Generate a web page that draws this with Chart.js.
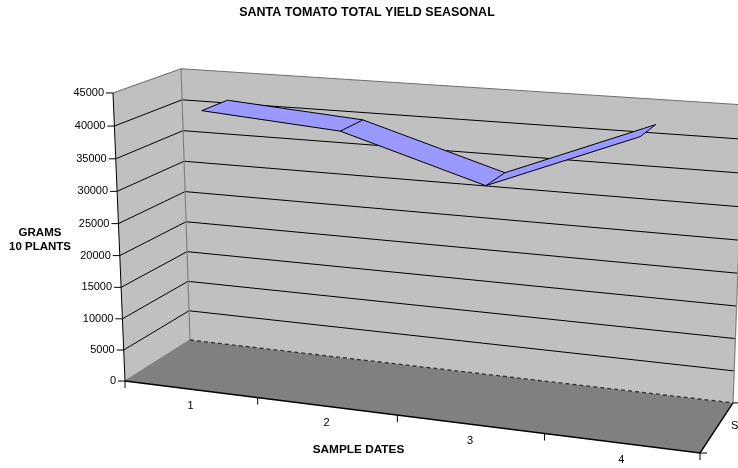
<!DOCTYPE html>
<html>
<head>
<meta charset="utf-8">
<script src="https://cdn.jsdelivr.net/npm/chart.js@4/dist/chart.umd.min.js"></script>
<style>html,body{margin:0;padding:0;background:#fff;overflow:hidden}canvas{display:block}</style>
</head>
<body>
<canvas id="c" width="738" height="468"></canvas>
<script>
const categories = ['1', '2', '3', '4'];
const totalYield = [41850, 40280, 33880, 42630];
const yTickStep = 5000;
const yMax = 45000;
const chartTitle = 'SANTA TOMATO TOTAL YIELD SEASONAL';
const yTitleLines = ['GRAMS', '10 PLANTS'];
const xTitle = 'SAMPLE DATES';
const seriesLabel = 'S';

// Oblique perspective of the sheet: (u along dates, v along value, w into depth), each 0..1
const VIEW = { a: 505, b: -16.07, c: 77.35, d: 125, e: 26.7, f: -291.35, g: -18.9, h: 381, i: -0.1, j: -0.036, k: 0.065 };
const RIBBON_DEPTH = [0.3, 0.7];
function project(u, v, w) {
  const m = VIEW, q = 1 + m.i * u + m.j * v + m.k * w;
  return [(m.a * u + m.b * v + m.c * w + m.d) / q, (m.e * u + m.f * v + m.g * w + m.h) / q];
}
function path(ctx, pts, close) {
  ctx.beginPath();
  pts.forEach((p, n) => n ? ctx.lineTo(p[0], p[1]) : ctx.moveTo(p[0], p[1]));
  if (close) ctx.closePath();
}
function stroke(ctx, pts, color, width, dash) {
  ctx.strokeStyle = color; ctx.lineWidth = width; ctx.setLineDash(dash || []);
  path(ctx, pts); ctx.stroke(); ctx.setLineDash([]);
}
const FONT = '"Liberation Sans", Arial, sans-serif';

const perspective = {
  id: 'perspective',
  afterDatasetsUpdate(chart) {
    const { x: sx, y: sy } = chart.scales;
    chart.data.datasets.forEach((ds, n) => {
      chart.getDatasetMeta(n).data.forEach((pt, idx) => {
        const u = (sx.getPixelForValue(idx) - sx.left) / sx.width;
        const v = (sy.bottom - sy.getPixelForValue(ds.data[idx])) / sy.height;
        const p = project(u, v, RIBBON_DEPTH[n]);
        pt.x = p[0]; pt.y = p[1];
      });
    });
  },
  beforeDatasetsDraw(chart) {
    const ctx = chart.ctx, { x: sx, y: sy } = chart.scales;
    ctx.save();
    // walls and floor
    ctx.fillStyle = '#C0C0C0';
    path(ctx, [project(0,0,0), project(0,1,0), project(0,1,1), project(0,0,1)], true); ctx.fill();
    path(ctx, [project(0,0,1), project(0,1,1), project(1,1,1), project(1,0,1)], true); ctx.fill();
    ctx.fillStyle = '#808080';
    path(ctx, [project(0,0,0), project(1,0,0), project(1,0,1), project(0,0,1)], true); ctx.fill();
    // value gridlines, ticks and labels
    ctx.font = '11px ' + FONT; ctx.fillStyle = '#000';
    sy.ticks.forEach(t => {
      const v = (sy.bottom - sy.getPixelForValue(t.value)) / sy.height;
      const f = project(0, v, 0);
      if (t.value > 0 && t.value < yMax) stroke(ctx, [f, project(0,v,1), project(1,v,1)], '#000', 1);
      stroke(ctx, [[f[0] - 7, f[1]], f], '#000', 1);
      ctx.textAlign = 'right'; ctx.textBaseline = 'middle';
      ctx.fillText(t.label, f[0] - 9, f[1]);
    });
    // wall edges
    stroke(ctx, [project(0,1,0), project(0,1,1), project(1,1,1)], '#707070', 1.2);
    stroke(ctx, [project(0,1,1), project(0,0,1)], '#808080', 1.2);
    stroke(ctx, [project(1,1,1), project(1,0,1)], '#808080', 1.2);
    stroke(ctx, [project(0,0,0), project(0,0,1)], '#808080', 1.2);
    stroke(ctx, [project(0,0,1), project(1,0,1)], '#303030', 1.3, [4, 3]);
    stroke(ctx, [project(0,0,0), project(0,1,0)], '#000', 1);
    stroke(ctx, [project(0,0,0), project(1,0,0), project(1,0,1)], '#000', 1.4);
    // date ticks and labels
    const slots = categories.length;
    for (let n = 0; n <= slots; n++) {
      const p = project(n / slots, 0, 0);
      stroke(ctx, [p, [p[0], p[1] + 7]], '#000', 1);
    }
    stroke(ctx, [project(1,0,0), [project(1,0,0)[0] + 7, project(1,0,0)[1]]], '#000', 1);
    stroke(ctx, [project(1,0,1), [project(1,0,1)[0] + 6, project(1,0,1)[1]]], '#000', 1);
    ctx.textAlign = 'center'; ctx.textBaseline = 'middle';
    categories.forEach((c, n) => {
      const u = (sx.getPixelForValue(n) - sx.left) / sx.width;
      const p = project(u, 0, 0);
      ctx.fillText(c, p[0], p[1] + 16.5);
    });
    ctx.textAlign = 'left';
    ctx.fillText(seriesLabel, 731, 426);
    // axis titles
    ctx.font = 'bold 11.5px ' + FONT; ctx.textAlign = 'center';
    yTitleLines.forEach((s, n) => ctx.fillText(s, 40, 233 + n * 14));
    ctx.font = 'bold 11.8px ' + FONT;
    ctx.fillText(xTitle, 358.5, 450);
    // ribbon faces
    const front = chart.getDatasetMeta(0).data, back = chart.getDatasetMeta(1).data;
    const xy = pt => [pt.x, pt.y];
    for (let n = 0; n < front.length - 1; n++) {
      ctx.fillStyle = '#9999FF';
      path(ctx, [xy(front[n]), xy(front[n + 1]), xy(back[n + 1]), xy(back[n])], true);
      ctx.fill();
    }
    front.forEach((pt, n) => stroke(ctx, [xy(pt), xy(back[n])], '#000', 1));
    ctx.restore();
  }
};

new Chart(document.getElementById('c'), {
  type: 'line',
  data: {
    labels: categories,
    datasets: [
      { label: 'S1 front', data: totalYield, borderColor: '#000', borderWidth: 1, pointRadius: 0, tension: 0, fill: false, clip: false },
      { label: 'S1 back', data: totalYield, borderColor: '#000', borderWidth: 1, pointRadius: 0, tension: 0, fill: false, clip: false }
    ]
  },
  options: {
    responsive: false,
    animation: false,
    events: [],
    layout: { padding: { right: 4 } },
    plugins: {
      legend: { display: false },
      tooltip: { enabled: false },
      title: { display: true, text: chartTitle, color: '#000', padding: { top: 5, bottom: 10 }, font: { family: FONT, size: 12.5, weight: 'bold' } }
    },
    scales: {
      x: { type: 'category', offset: true, display: false },
      y: { type: 'linear', min: 0, max: yMax, display: false, ticks: { stepSize: yTickStep, callback: value => String(value) } }
    }
  },
  plugins: [perspective]
});
</script>
</body>
</html>
